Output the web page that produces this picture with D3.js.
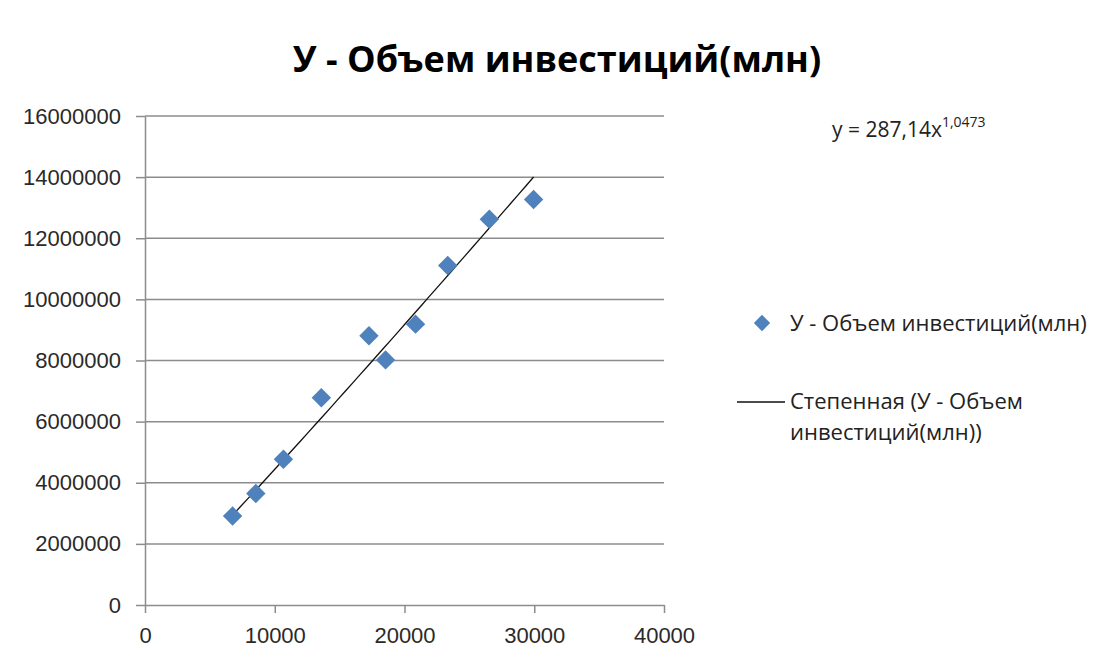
<!DOCTYPE html>
<html>
<head>
<meta charset="utf-8">
<title>Объем инвестиций</title>
<script src="https://d3js.org/d3.v7.min.js"></script>
<style>
  body { margin: 0; background: #fff; }
  svg { font-family: "Open Sans", sans-serif; }
  .grid line { stroke: #8c8c8c; stroke-width: 1.5px; }
  .axis path, .axis line { stroke: #8c8c8c; stroke-width: 1.5px; }
  .axis text { fill: #2a2a2a; font-size: 22px; }
</style>
</head>
<body>
<svg width="1099" height="657"></svg>
<script>
const xValues = [6750, 8540, 10670, 13590, 17260, 18540, 20850, 23330, 26540, 29950];
const yValues = [2910000, 3650000, 4770000, 6780000, 8810000, 8020000, 9190000, 11110000, 12620000, 13270000];
const xTicks = [0, 10000, 20000, 30000, 40000];
const yTicks = [0, 2000000, 4000000, 6000000, 8000000, 10000000, 12000000, 14000000, 16000000];
const trendA = 287.14, trendB = 1.0473;
const title = "У - Объем инвестиций(млн)";
const seriesName = "У - Объем инвестиций(млн)";
const trendName = ["Степенная (У - Объем", "инвестиций(млн))"];

const svg = d3.select("svg");
const margin = {top: 116, left: 145, right: 435, bottom: 52};
const width = 1099 - margin.left - margin.right,
      height = 657 - margin.top - margin.bottom;
const g = svg.append("g").attr("transform", "translate(" + margin.left + "," + margin.top + ")");

const x = d3.scaleLinear().domain([0, 40000]).range([0, width]);
const y = d3.scaleLinear().domain([0, 16000000]).range([height, 0]);

// gridlines
g.append("g").attr("class", "grid")
  .selectAll("line").data(yTicks.slice(1)).join("line")
  .attr("x1", 0).attr("x2", width)
  .attr("y1", d => y(d)).attr("y2", d => y(d));

// axes
g.append("g").attr("class", "axis")
  .attr("transform", "translate(0," + height + ")")
  .call(d3.axisBottom(x).tickValues(xTicks).tickSize(8).tickSizeOuter(0).tickPadding(14).tickFormat(d3.format("d")));

g.append("g").attr("class", "axis")
  .call(d3.axisLeft(y).tickValues(yTicks).tickSize(9).tickSizeOuter(0).tickPadding(15).tickFormat(d3.format("d")));

// trend line
const data = xValues.map((v, i) => ({x: v, y: yValues[i]}));
const xMin = d3.min(xValues), xMax = d3.max(xValues);
const trend = d3.range(0, 41).map(i => {
  const xv = xMin + (xMax - xMin) * i / 40;
  return {x: xv, y: trendA * Math.pow(xv, trendB)};
});
g.append("path").datum(trend)
  .attr("fill", "none").attr("stroke", "#111").attr("stroke-width", 1.3)
  .attr("d", d3.line().x(d => x(d.x)).y(d => y(d.y)));

// markers
const diamond = d3.symbol().type(d3.symbolDiamond2).size(240);
g.selectAll(".pt").data(data).join("path")
  .attr("class", "pt")
  .attr("transform", d => "translate(" + x(d.x) + "," + y(d.y) + ")")
  .attr("d", diamond)
  .attr("fill", "#4f81bd");

// title
svg.append("text")
  .attr("x", 557).attr("y", 72)
  .attr("text-anchor", "middle")
  .style("font-size", "36px").style("font-weight", "bold").attr("fill", "#000")
  .text(title);

// equation
const eq = svg.append("text").attr("x", 832).attr("y", 137)
  .style("font-size", "21px").attr("fill", "#222");
eq.append("tspan").text("y = " + String(trendA).replace(".", ",") + "x");
eq.append("tspan").attr("dy", -10).style("font-size", "14px").text(String(trendB).replace(".", ","));

// legend
const leg = svg.append("g");
leg.append("path")
  .attr("transform", "translate(762,323)")
  .attr("d", d3.symbol().type(d3.symbolDiamond2).size(170))
  .attr("fill", "#4f81bd");
leg.append("text").attr("x", 790).attr("y", 331)
  .style("font-size", "22px").attr("fill", "#222").text(seriesName);
leg.append("line")
  .attr("x1", 737).attr("x2", 785).attr("y1", 402).attr("y2", 402)
  .attr("stroke", "#111").attr("stroke-width", 1.5);
leg.selectAll(".tn").data(trendName).join("text")
  .attr("class", "tn")
  .attr("x", 790).attr("y", (d, i) => 409 + i * 31)
  .style("font-size", "22px").attr("fill", "#222").text(d => d);
</script>
</body>
</html>
